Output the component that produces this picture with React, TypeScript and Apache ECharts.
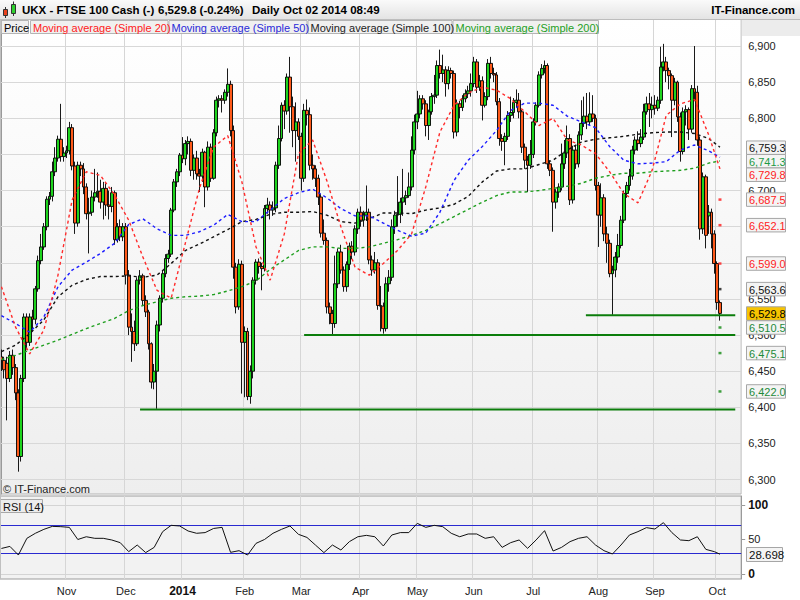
import React, { useEffect, useRef } from "react";
import * as echarts from "echarts";

const FONT = 'Arial, "Liberation Sans", Helvetica, sans-serif';

// Daily sessions Oct 1 2013 .. Oct 2 2014, each row [open, close, low, high]
const ohlc: number[][] = [
  [6470, 6465, 6450, 6480], [6465, 6452, 6440, 6470], [6461, 6440, 6382, 6470], [6440, 6472, 6435, 6478], [6472, 6455, 6445, 6480],
  [6455, 6420, 6410, 6460], [6420, 6332, 6311, 6425], [6332, 6440, 6325, 6445], [6440, 6525, 6435, 6530], [6525, 6490, 6480, 6530],
  [6490, 6525, 6485, 6530], [6525, 6522, 6505, 6535], [6522, 6564, 6515, 6568], [6564, 6603, 6560, 6610], [6603, 6622, 6598, 6640],
  [6622, 6650, 6618, 6655], [6650, 6688, 6645, 6692], [6688, 6692, 6680, 6698], [6692, 6726, 6685, 6740], [6726, 6745, 6720, 6760],
  [6745, 6771, 6740, 6776], [6771, 6747, 6740, 6820], [6747, 6752, 6740, 6760],
  // Nov
  [6752, 6755, 6745, 6762], [6755, 6787, 6750, 6795], [6787, 6734, 6728, 6792], [6734, 6655, 6640, 6740], [6655, 6735, 6650, 6740],
  [6735, 6730, 6720, 6740], [6730, 6705, 6695, 6738], [6705, 6668, 6660, 6710], [6668, 6670, 6613, 6690], [6670, 6691, 6665, 6700],
  [6691, 6697, 6685, 6730], [6697, 6699, 6690, 6725], [6699, 6684, 6675, 6715], [6684, 6703, 6660, 6712], [6703, 6680, 6665, 6710],
  [6680, 6678, 6660, 6700], [6678, 6697, 6670, 6705], [6697, 6632, 6625, 6700], [6632, 6650, 6628, 6655], [6650, 6636, 6630, 6660],
  [6636, 6650, 6630, 6655],
  // Dec
  [6650, 6583, 6570, 6655], [6583, 6511, 6500, 6590], [6511, 6505, 6463, 6530], [6505, 6488, 6478, 6520], [6488, 6576, 6485, 6580],
  [6576, 6582, 6570, 6590], [6582, 6548, 6540, 6585], [6548, 6532, 6525, 6555], [6532, 6488, 6480, 6535], [6488, 6435, 6426, 6490],
  [6435, 6450, 6425, 6460], [6450, 6514, 6398, 6520], [6514, 6551, 6505, 6555], [6551, 6585, 6545, 6590], [6585, 6606, 6580, 6612],
  [6606, 6612, 6600, 6618], [6612, 6673, 6608, 6676], [6673, 6712, 6670, 6716], [6712, 6726, 6705, 6730], [6726, 6749, 6720, 6752],
  // Jan
  [6749, 6744, 6738, 6774], [6744, 6765, 6735, 6770], [6765, 6768, 6750, 6775], [6768, 6728, 6720, 6772], [6728, 6745, 6715, 6750],
  [6745, 6723, 6715, 6755], [6723, 6720, 6698, 6730], [6720, 6753, 6712, 6758], [6753, 6705, 6677, 6755], [6705, 6760, 6700, 6768],
  [6760, 6717, 6712, 6765], [6717, 6780, 6715, 6785], [6780, 6825, 6775, 6830], [6825, 6827, 6815, 6832], [6827, 6825, 6808, 6832],
  [6825, 6836, 6820, 6840], [6836, 6847, 6830, 6869], [6847, 6783, 6775, 6852], [6783, 6594, 6578, 6790], [6594, 6539, 6530, 6600],
  [6539, 6598, 6535, 6605], [6598, 6490, 6419, 6603],
  // Feb
  [6490, 6505, 6414, 6512], [6505, 6415, 6410, 6510], [6415, 6450, 6405, 6458], [6450, 6576, 6440, 6580], [6576, 6601, 6570, 6605],
  [6601, 6595, 6585, 6606], [6595, 6592, 6562, 6600], [6592, 6675, 6588, 6680], [6675, 6680, 6668, 6690], [6680, 6673, 6660, 6685],
  [6673, 6676, 6665, 6685], [6676, 6735, 6670, 6740], [6735, 6772, 6730, 6790], [6772, 6818, 6768, 6822], [6818, 6810, 6785, 6825],
  [6810, 6857, 6805, 6862], [6857, 6816, 6780, 6885], [6816, 6783, 6760, 6830], [6783, 6795, 6740, 6822], [6795, 6775, 6770, 6800],
  // Mar
  [6775, 6717, 6700, 6780], [6717, 6811, 6712, 6820], [6811, 6805, 6790, 6826], [6805, 6735, 6728, 6815], [6735, 6730, 6715, 6750],
  [6730, 6717, 6705, 6735], [6717, 6691, 6680, 6722], [6691, 6641, 6635, 6695], [6641, 6631, 6625, 6660], [6631, 6539, 6530, 6635],
  [6539, 6530, 6515, 6545], [6530, 6516, 6500, 6535], [6516, 6571, 6510, 6610], [6571, 6615, 6565, 6620], [6615, 6590, 6585, 6625],
  [6590, 6567, 6560, 6595], [6567, 6598, 6560, 6602], [6598, 6623, 6590, 6628], [6623, 6615, 6605, 6630], [6615, 6647, 6610, 6652],
  [6647, 6670, 6640, 6675],
  // Apr
  [6670, 6659, 6650, 6678], [6659, 6666, 6650, 6672], [6666, 6670, 6658, 6707], [6670, 6604, 6598, 6675], [6604, 6590, 6582, 6610],
  [6590, 6600, 6585, 6615], [6600, 6541, 6535, 6605], [6541, 6540, 6505, 6568], [6540, 6509, 6502, 6545], [6509, 6571, 6505, 6580],
  [6571, 6580, 6560, 6590], [6580, 6650, 6575, 6660], [6650, 6666, 6640, 6672], [6666, 6667, 6650, 6720], [6667, 6684, 6655, 6690],
  [6684, 6690, 6665, 6730], [6690, 6693, 6680, 6700], [6693, 6705, 6690, 6725], [6705, 6756, 6700, 6775], [6756, 6795, 6750, 6805],
  // May
  [6795, 6806, 6785, 6838], [6806, 6827, 6800, 6832], [6827, 6820, 6812, 6832], [6820, 6790, 6775, 6825], [6790, 6809, 6770, 6812],
  [6809, 6830, 6805, 6835], [6830, 6832, 6820, 6860], [6832, 6873, 6828, 6880], [6873, 6862, 6855, 6895], [6862, 6867, 6850, 6888],
  [6867, 6848, 6830, 6872], [6848, 6866, 6840, 6872], [6866, 6862, 6855, 6870], [6862, 6781, 6772, 6866], [6781, 6820, 6775, 6826],
  [6820, 6815, 6800, 6824], [6815, 6827, 6810, 6832], [6827, 6834, 6822, 6840], [6834, 6838, 6828, 6845], [6838, 6848, 6830, 6862],
  // Jun
  [6848, 6878, 6843, 6885], [6878, 6843, 6835, 6882], [6843, 6852, 6838, 6860], [6852, 6818, 6797, 6858], [6818, 6830, 6815, 6836],
  [6830, 6876, 6825, 6882], [6876, 6862, 6855, 6885], [6862, 6860, 6850, 6870], [6860, 6823, 6818, 6864], [6823, 6772, 6762, 6828],
  [6772, 6768, 6755, 6778], [6768, 6775, 6735, 6780], [6775, 6804, 6770, 6810], [6804, 6808, 6795, 6830], [6808, 6822, 6800, 6828],
  [6822, 6825, 6815, 6840], [6825, 6809, 6800, 6835], [6809, 6760, 6752, 6812], [6760, 6742, 6730, 6765], [6742, 6735, 6698, 6748],
  [6735, 6750, 6730, 6770],
  // Jul
  [6750, 6795, 6745, 6800], [6795, 6818, 6790, 6822], [6818, 6860, 6815, 6865], [6860, 6869, 6855, 6875], [6869, 6873, 6862, 6880],
  [6873, 6737, 6730, 6876], [6737, 6728, 6720, 6742], [6728, 6684, 6643, 6732], [6684, 6698, 6675, 6702], [6698, 6705, 6690, 6710],
  [6705, 6737, 6700, 6765], [6737, 6752, 6730, 6770], [6752, 6772, 6745, 6790], [6772, 6687, 6680, 6778], [6687, 6756, 6682, 6762],
  [6756, 6737, 6730, 6762], [6737, 6777, 6732, 6782], [6777, 6793, 6770, 6825], [6793, 6803, 6788, 6830], [6803, 6795, 6785, 6835],
  [6795, 6806, 6790, 6836], [6806, 6800, 6795, 6832], [6800, 6707, 6700, 6805],
  // Aug
  [6707, 6666, 6622, 6712], [6666, 6690, 6650, 6710], [6690, 6640, 6630, 6695], [6640, 6627, 6600, 6650], [6627, 6585, 6580, 6632],
  [6585, 6590, 6528, 6596], [6590, 6608, 6580, 6615], [6608, 6624, 6600, 6640], [6624, 6659, 6620, 6665], [6659, 6696, 6655, 6700],
  [6696, 6707, 6690, 6712], [6707, 6720, 6700, 6730], [6720, 6756, 6715, 6762], [6756, 6770, 6750, 6775], [6770, 6765, 6755, 6782],
  [6765, 6774, 6760, 6785], [6774, 6809, 6770, 6820], [6809, 6820, 6805, 6830], [6820, 6812, 6788, 6835], [6812, 6818, 6800, 6830],
  // Sep
  [6818, 6814, 6805, 6832], [6814, 6825, 6810, 6830], [6825, 6871, 6820, 6899], [6871, 6878, 6865, 6903], [6878, 6866, 6850, 6885],
  [6866, 6859, 6840, 6870], [6859, 6825, 6774, 6862], [6825, 6850, 6818, 6856], [6850, 6802, 6795, 6852], [6802, 6754, 6740, 6808],
  [6754, 6809, 6750, 6815], [6809, 6812, 6790, 6818], [6812, 6785, 6770, 6815], [6785, 6841, 6780, 6846], [6841, 6836, 6825, 6900],
  [6836, 6770, 6762, 6845], [6770, 6647, 6632, 6775], [6647, 6719, 6640, 6725], [6719, 6638, 6620, 6722], [6665, 6670, 6640, 6680],
  [6670, 6640, 6620, 6675], [6640, 6599, 6585, 6645],
  // Oct
  [6599, 6545, 6535, 6602], [6545, 6530, 6520, 6548],
];

// Moving averages read every 5 sessions (index 0, 5, ... 250), last value = last session
const SMA_STEP = 5;
const sma20 = [6567, 6511, 6474, 6507, 6583, 6687, 6726, 6721, 6694, 6659, 6608, 6562, 6551, 6627, 6703, 6760, 6776, 6712, 6622, 6576, 6640, 6751, 6770, 6714, 6650, 6594, 6583, 6599, 6617, 6640, 6705, 6781, 6818, 6835, 6843, 6839, 6827, 6809, 6790, 6800, 6770, 6763, 6751, 6726, 6696, 6683, 6728, 6804, 6820, 6826, 6777, 6730];
const sma50 = [6527, 6516, 6504, 6525, 6567, 6590, 6601, 6613, 6627, 6653, 6661, 6647, 6638, 6638, 6643, 6652, 6667, 6657, 6657, 6673, 6689, 6697, 6702, 6690, 6675, 6665, 6665, 6655, 6645, 6637, 6641, 6670, 6714, 6742, 6761, 6783, 6811, 6821, 6821, 6818, 6803, 6795, 6787, 6761, 6742, 6737, 6738, 6740, 6756, 6763, 6755, 6746];
const sma100 = [6477, 6486, 6502, 6521, 6553, 6569, 6577, 6581, 6581, 6582, 6580, 6583, 6599, 6617, 6626, 6636, 6646, 6657, 6660, 6667, 6670, 6670, 6671, 6666, 6657, 6655, 6661, 6669, 6669, 6668, 6673, 6676, 6681, 6692, 6712, 6727, 6730, 6730, 6736, 6742, 6756, 6767, 6771, 6773, 6775, 6778, 6780, 6781, 6781, 6779, 6772, 6760];
const sma200 = [6466, 6472, 6479, 6486, 6493, 6501, 6509, 6516, 6523, 6534, 6541, 6546, 6551, 6553, 6554, 6556, 6561, 6567, 6575, 6591, 6604, 6617, 6622, 6622, 6620, 6620, 6622, 6627, 6632, 6638, 6645, 6654, 6664, 6674, 6684, 6693, 6698, 6698, 6700, 6703, 6706, 6710, 6717, 6721, 6724, 6724, 6726, 6727, 6728, 6731, 6738, 6741];

// RSI(14) read every 3 sessions (index 0, 3, ... 252), plus the last session
const RSI_STEP = 3;
const rsi14 = [37, 40, 27.5, 51.7, 59, 64.7, 69, 68.6, 67.6, 50, 54, 51.7, 51.7, 49.3, 45.4, 32.4, 42, 31, 38.6, 61.4, 70.5, 69.6, 62.3, 59, 60, 66, 67.6, 31.4, 33.8, 27.5, 44.4, 50, 59, 64.7, 69.6, 57.5, 53, 42, 31, 42, 34.8, 46.9, 54, 56, 54, 40.6, 56.5, 60, 60, 73.4, 67.6, 70.5, 68.6, 59, 54, 58, 58, 51.7, 54, 38.6, 45.4, 49.3, 37.2, 49.3, 62.8, 33.3, 38.6, 46.9, 51.7, 54, 42, 33.8, 29, 42, 56.5, 61.4, 67.2, 65.2, 74.4, 60, 49.3, 48.3, 54, 35.7, 32.4];
const rsiLast = 28.698;

const ukHolidays = ["2013-12-25", "2013-12-26", "2014-01-01", "2014-04-18", "2014-04-21", "2014-05-05", "2014-05-26", "2014-08-25"];
const monthNames = ["Jan", "Feb", "Mar", "Apr", "May", "Jun", "Jul", "Aug", "Sep", "Oct", "Nov", "Dec"];
const priceTicks = [6300, 6350, 6400, 6450, 6500, 6550, 6600, 6650, 6700, 6750, 6800, 6850, 6900];
// tick labels that the value tags cover completely in the reference
const coveredTickLabels = [6600, 6650, 6750];
const rsiTicks = [0, 50, 100];
const rsiBands = [70, 30];

// horizontal support lines (session index range, level)
const supports = [
  { from: 49, to: 259.4, level: 6397 },
  { from: 107, to: 259.4, level: 6500 },
  { from: 206.6, to: 259.4, level: 6527.5 },
];

// pivot levels drawn at the last session
const pivots = [
  { level: 6687.5, color: "#ff1a1a" },
  { level: 6652.1, color: "#ff1a1a" },
  { level: 6599.0, color: "#ff1a1a" },
  { level: 6563.6, color: "#111111" },
  { level: 6510.5, color: "#118a11" },
  { level: 6475.1, color: "#118a11" },
  { level: 6422.0, color: "#118a11" },
];

// value tags on the right axis
const priceTags = [
  { value: 6759.3, color: "#111111", bg: "#f4f4f4" },
  { value: 6741.3, color: "#1d9a45", bg: "#f4f4f4" },
  { value: 6729.8, color: "#ff2222", bg: "#f4f4f4" },
  { value: 6687.5, color: "#ff2222", bg: "#f4f4f4" },
  { value: 6652.1, color: "#ff2222", bg: "#f4f4f4" },
  { value: 6599.0, color: "#ff2222", bg: "#f4f4f4" },
  { value: 6563.6, color: "#111111", bg: "#f4f4f4" },
  { value: 6529.8, color: "#000000", bg: "#f7c400" },
  { value: 6510.5, color: "#1d8a3a", bg: "#f4f4f4" },
  { value: 6475.1, color: "#1d8a3a", bg: "#f4f4f4" },
  { value: 6422.0, color: "#1d8a3a", bg: "#f4f4f4" },
];

const legendItems = [
  { text: "Price", color: "#000000", x: 1, w: 27 },
  { text: "Moving average (Simple 20)", color: "#ff2020", x: 30, w: 137.5 },
  { text: "Moving average (Simple 50)", color: "#2a2ad8", x: 168.5, w: 138 },
  { text: "Moving average (Simple 100)", color: "#222222", x: 307.5, w: 144 },
  { text: "Moving average (Simple 200)", color: "#1fa01f", x: 452.5, w: 145.5 },
];

function buildCategories(): string[] {
  const out: string[] = [];
  const d = new Date(Date.UTC(2013, 9, 1));
  while (out.length < ohlc.length + 7) {
    const wd = d.getUTCDay();
    const s = d.toISOString().slice(0, 10);
    if (wd !== 0 && wd !== 6 && !ukHolidays.includes(s)) out.push(s);
    d.setUTCDate(d.getUTCDate() + 1);
  }
  return out;
}

function expand(samples: number[], step: number, n: number, lastIndex: number, last?: number) {
  const out: (number | null)[] = new Array(n).fill(null);
  const regular = last === undefined ? samples.length - 1 : samples.length;
  for (let k = 0; k < regular; k++) out[k * step] = samples[k];
  out[lastIndex] = last === undefined ? samples[samples.length - 1] : last;
  return out;
}

const fmtPrice = (v: number) => v.toLocaleString("en-US", { minimumFractionDigits: 1, maximumFractionDigits: 1 });

export default function App() {
  const ref = useRef<HTMLDivElement>(null);
  useEffect(() => {
    const el = ref.current!;
    const chart = echarts.init(el, null, { renderer: "svg" });
    const cats = buildCategories();
    const N = cats.length;
    const lastIdx = ohlc.length - 1;
    const monthStart = new Set<number>();
    for (let i = 1; i < cats.length; i++) {
      if (cats[i].slice(5, 7) !== cats[i - 1].slice(5, 7)) monthStart.add(i);
    }
    const isStart = (idx: number) => monthStart.has(idx);

    const gridLeft = -3.8;
    const gridWidth = 745;

    const maSeries = (name: string, arr: number[], color: string) => ({
      name,
      type: "line",
      xAxisIndex: 0,
      yAxisIndex: 0,
      data: expand(arr, SMA_STEP, N, lastIdx),
      connectNulls: true,
      symbol: "none",
      silent: true,
      z: 3,
      lineStyle: { color, width: 1.4, type: [3, 3] },
    });

    const option: any = {
      animation: false,
      backgroundColor: "#ffffff",
      textStyle: { fontFamily: FONT },
      grid: [
        {
          left: gridLeft, top: 19, width: gridWidth, height: 475, show: true,
          backgroundColor: new echarts.graphic.LinearGradient(0, 0, 0, 1, [
            { offset: 0, color: "#ffffff" },
            { offset: 1, color: "#eeeeee" },
          ]),
          borderColor: "#b4b4b4", borderWidth: 1,
        },
        {
          left: gridLeft, top: 496, width: gridWidth, height: 83, show: true,
          backgroundColor: "#f2f2f2", borderColor: "#9c9c9c", borderWidth: 1,
        },
      ],
      xAxis: [
        {
          type: "category", gridIndex: 0, data: cats, boundaryGap: true,
          axisLine: { show: false }, axisTick: { show: false }, axisLabel: { show: false },
          splitLine: { show: true, interval: isStart, lineStyle: { color: "#d6d6d6", width: 1 } },
        },
        {
          type: "category", gridIndex: 1, data: cats, boundaryGap: true,
          axisLine: { show: false }, axisTick: { show: false },
          axisLabel: {
            show: true, interval: isStart, margin: 6, color: "#222", fontSize: 11, fontFamily: FONT,
            formatter: (v: string) => {
              const m = +v.slice(5, 7);
              return m === 1 ? "{y|" + v.slice(0, 4) + "}" : monthNames[m - 1];
            },
            rich: { y: { fontWeight: "bold", fontSize: 12, color: "#111", fontFamily: FONT } },
          },
          splitLine: { show: true, interval: isStart, lineStyle: { color: "#d6d6d6", width: 1 } },
        },
        { type: "value", gridIndex: 0, min: -0.5, max: N - 0.5, show: false },
      ],
      yAxis: [
        {
          type: "value", gridIndex: 0, position: "right", min: 6280.1, max: 6937.4,
          splitLine: { show: false },
          axisLine: { show: true, lineStyle: { color: "#9a9a9a" } },
          axisTick: { show: true, customValues: priceTicks, length: 4, lineStyle: { color: "#9a9a9a" } },
          axisLabel: {
            customValues: priceTicks.filter((v) => !coveredTickLabels.includes(v)),
            color: "#222", fontSize: 11, margin: 7, fontFamily: FONT,
            formatter: (v: number) => v.toLocaleString("en-US"),
          },
        },
        {
          type: "value", gridIndex: 1, position: "right", min: -7.25, max: 113.04,
          splitLine: { show: false },
          axisLine: { show: true, lineStyle: { color: "#9a9a9a" } },
          axisTick: { show: true, customValues: rsiTicks, length: 4, lineStyle: { color: "#9a9a9a" } },
          axisLabel: {
            customValues: rsiTicks, color: "#222", fontSize: 11, margin: 7, fontFamily: FONT,
            formatter: (v: number) => (v === 50 ? "50" : "{b|" + v + "}"),
            rich: { b: { fontWeight: "bold", fontSize: 12, color: "#111", fontFamily: FONT } },
          },
        },
      ],
      series: [
        {
          name: "gridlines", type: "line", xAxisIndex: 2, yAxisIndex: 0, data: [], silent: true, z: 1,
          markLine: {
            silent: true, symbol: ["none", "none"], z: 1, animation: false,
            label: { show: false },
            lineStyle: { color: "#d8d8d8", width: 1, type: "solid" },
            data: priceTicks.map((v) => ({ yAxis: v })),
          },
        },
        {
          name: "Price", type: "candlestick", xAxisIndex: 0, yAxisIndex: 0, data: ohlc,
          barWidth: 3.4, z: 2, silent: true,
          itemStyle: {
            color: "#1ed41e", color0: "#ff5a1a", borderColor: "#000000", borderColor0: "#000000", borderWidth: 0.9,
          },
        },
        maSeries("SMA200", sma200, "#1f9f1f"),
        maSeries("SMA100", sma100, "#111111"),
        maSeries("SMA50", sma50, "#1c1cff"),
        maSeries("SMA20", sma20, "#ff2a2a"),
        ...supports.map((s, k) => ({
          name: "support" + k, type: "line", xAxisIndex: 2, yAxisIndex: 0, silent: true, z: 4,
          symbol: "none", data: [[s.from, s.level], [s.to, s.level]],
          lineStyle: { color: "#0b7d0b", width: 2 },
        })),
        {
          name: "pivots", type: "scatter", xAxisIndex: 2, yAxisIndex: 0, silent: true, z: 5,
          symbol: "rect", symbolSize: [3, 2.5],
          data: pivots.map((p) => ({ value: [lastIdx, p.level], itemStyle: { color: p.color } })),
        },
        {
          name: "RSI", type: "line", xAxisIndex: 1, yAxisIndex: 1, silent: true, z: 3,
          data: expand(rsi14, RSI_STEP, N, lastIdx, rsiLast), connectNulls: true, symbol: "none",
          lineStyle: { color: "#111", width: 1 },
          markLine: {
            silent: true, symbol: ["none", "none"], z: 2, animation: false, label: { show: false },
            data: [
              ...rsiBands.map((v) => ({ yAxis: v, lineStyle: { color: "#2a2ad0", width: 1.2, type: "solid" } })),
              ...[100, 0].map((v) => ({ yAxis: v, lineStyle: { color: "#d4d4d4", width: 1, type: "solid" } })),
            ],
          },
        },
      ],
    };
    chart.setOption(option);

    const yPx = (v: number, idx: number) => chart.convertToPixel({ yAxisIndex: idx }, v) as number;
    const els: any[] = [];
    // header bar
    els.push({
      type: "rect", z: 100, shape: { x: 0, y: 0, width: 800, height: 19.5 },
      style: { fill: new echarts.graphic.LinearGradient(0, 0, 0, 1, [{ offset: 0, color: "#fafafa" }, { offset: 1, color: "#e3e3e3" }]) },
    });
    els.push({ type: "line", z: 100, shape: { x1: 0, y1: 19.5, x2: 800, y2: 19.5 }, style: { stroke: "#bdbdbd", lineWidth: 1 } });
    els.push({ type: "rect", z: 99, shape: { x: 742, y: 20, width: 58, height: 16 }, style: { fill: "#ececec" } });
    // icon
    els.push({ type: "line", z: 101, shape: { x1: 5.5, y1: 7, x2: 5.5, y2: 18 }, style: { stroke: "#333", lineWidth: 1 } });
    els.push({ type: "rect", z: 102, shape: { x: 3.5, y: 9.5, width: 4, height: 6 }, style: { fill: "#e8401c", stroke: "#333", lineWidth: 1 } });
    els.push({ type: "line", z: 101, shape: { x1: 13.5, y1: 1.5, x2: 13.5, y2: 16 }, style: { stroke: "#333", lineWidth: 1 } });
    els.push({ type: "rect", z: 102, shape: { x: 11.5, y: 4.5, width: 4, height: 9 }, style: { fill: "#2fd12f", stroke: "#333", lineWidth: 1 } });
    const hdr = (text: string, x: number, align = "left") => ({
      type: "text", z: 103, x, y: 10,
      style: { text, font: "bold 11.5px " + FONT, fill: "#000", align, verticalAlign: "middle" },
    });
    els.push(hdr("UKX - FTSE 100 Cash (-)", 22));
    els.push(hdr("6,529.8 (-0.24%)", 158));
    els.push(hdr("Daily", 252));
    els.push(hdr("Oct 02 2014 08:49", 283));
    els.push(hdr("IT-Finance.com", 795, "right"));
    // legend row
    legendItems.forEach((it) => {
      els.push({ type: "rect", z: 100, shape: { x: it.x + 0.5, y: 20.5, width: it.w, height: 13 }, style: { fill: "#f0f0f0", stroke: "#b4b4b4", lineWidth: 1 } });
      els.push({ type: "text", z: 101, x: it.x + 3, y: 27.5, style: { text: it.text, font: "11px " + FONT, fill: it.color, verticalAlign: "middle" } });
    });
    // price tags: placed at their level, pushed down just enough not to cover the tag above
    const TAG_H = 13.5;
    let prevY = -Infinity;
    priceTags.forEach((t) => {
      let y = yPx(t.value, 0);
      if (y < prevY + TAG_H) y = prevY + TAG_H;
      prevY = y;
      els.push({ type: "rect", z: 100, shape: { x: 746.5, y: y - TAG_H / 2, width: 39, height: TAG_H }, style: { fill: t.bg, stroke: "#a6a6a6", lineWidth: 1 } });
      els.push({ type: "text", z: 101, x: 749, y: y + 0.5, style: { text: fmtPrice(t.value), font: "11px " + FONT, fill: t.color, verticalAlign: "middle" } });
    });
    // RSI label and tag
    els.push({ type: "rect", z: 100, shape: { x: 0.5, y: 499.5, width: 42, height: 13 }, style: { fill: "#ececec", stroke: "#a8a8a8", lineWidth: 1 } });
    els.push({ type: "text", z: 101, x: 3, y: 506.5, style: { text: "RSI (14)", font: "11px " + FONT, fill: "#111", verticalAlign: "middle" } });
    const ry = yPx(rsiLast, 1);
    els.push({ type: "rect", z: 100, shape: { x: 746.5, y: Math.round(ry - 7) + 0.5, width: 36, height: 14 }, style: { fill: "#f4f4f4", stroke: "#a6a6a6", lineWidth: 1 } });
    els.push({ type: "text", z: 101, x: 749, y: Math.round(ry) + 0.5, style: { text: rsiLast.toFixed(3), font: "11.5px " + FONT, fill: "#111", verticalAlign: "middle" } });
    // copyright
    els.push({ type: "text", z: 101, x: 3, y: 489, style: { text: "© IT-Finance.com", font: "11px " + FONT, fill: "#222", verticalAlign: "middle" } });
    els.push({ type: "line", z: 100, shape: { x1: 0.5, y1: 19, x2: 0.5, y2: 579 }, style: { stroke: "#c0c0c0", lineWidth: 1 } });

    chart.setOption({ graphic: { elements: els } });
    return () => chart.dispose();
  }, []);
  return <div ref={ref} style={{ position: "fixed", left: 0, top: 0, width: 800, height: 600 }} />;
}
